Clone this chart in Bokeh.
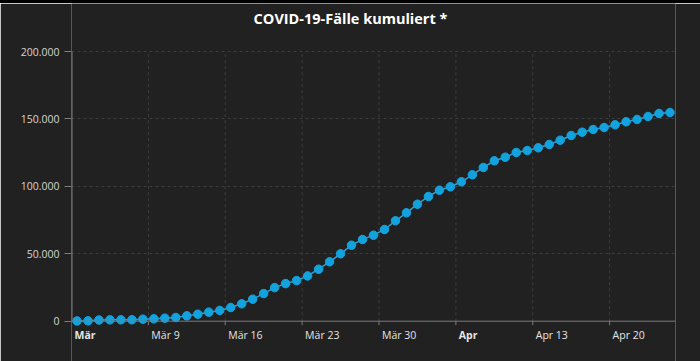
from datetime import datetime, timedelta
import pandas as pd
from bokeh.plotting import figure
from bokeh.models import Range1d, FixedTicker, Span, Grid, ColumnDataSource, Div
from bokeh.layouts import column
from bokeh.core.properties import value
from bokeh.embed import file_html
from bokeh.resources import INLINE

# ---- data ----
start_date = "2020-03-02"
cases = [200, 260, 900, 1000, 1050, 1100, 1500, 1750, 2250, 2750,
         3950, 5200, 6700, 8000, 10150, 12900, 16330, 20470, 24920, 27880,
         30110, 33570, 38560, 44050, 49990, 56360, 60590, 63800, 68000, 74450,
         80380, 86770, 92480, 97150, 99670, 103380, 108570, 113980, 118950, 121620,
         125110, 126590, 128590, 131040, 134220, 137710, 140160, 142160, 143650, 145650,
         147870, 149580, 151800, 154030, 154770]
dates = pd.date_range(start_date, periods=len(cases), freq="D")

tick_dates = ["2020-03-02", "2020-03-09", "2020-03-16", "2020-03-23",
              "2020-03-30", "2020-04-06", "2020-04-13", "2020-04-20"]
tick_labels = ["Mär", "Mär 9", "Mär 16", "Mär 23", "Mär 30", "Apr", "Apr 13", "Apr 20"]
tick_bold = [True, False, False, False, False, True, False, False]

y_ticks = [0, 50000, 100000, 150000, 200000]
y_labels = ["0", "50.000", "100.000", "150.000", "200.000"]

title_text = "COVID-19-Fälle kumuliert *"

# ---- styling / layout ----
BG = "#212121"
FONT = "Open Sans"
AXIS = "#7c7c7c"
GRID = "#3d3d3d"
DOT = "#12a3de"
LINE = "#3b9cc8"

W, H = 700, 358              # figure sits below a 3px black strip
left, right = 71, 25
frame_w = W - left - right
zero_px, top_px = 317.7, 48.0   # figure pixel rows of y=0 and y=200000
y_top_val = y_ticks[-1]
per_px = y_top_val / (zero_px - top_px)

x_start = datetime(2020, 3, 2)
x_end = datetime(2020, 4, 26)
x0_ms = pd.Timestamp(x_start).value // 10**6
x1_ms = pd.Timestamp(x_end).value // 10**6
ms_px = (x1_ms - x0_ms) / frame_w

y_start = -(H - zero_px) * per_px
y_end = y_top_val + top_px * per_px

src = ColumnDataSource(dict(x=[d.to_pydatetime() + timedelta(hours=12) for d in dates], y=cases))

p = figure(width=W, height=H, output_backend="svg", toolbar_location=None,
           x_axis_location=None,
           x_range=Range1d(x0_ms, x1_ms), y_range=Range1d(y_start, y_end),
           min_border_left=left, min_border_right=right,
           min_border_top=0, min_border_bottom=0)
p.background_fill_color = BG
p.border_fill_color = BG
p.outline_line_color = None
p.xgrid.grid_line_color = None
p.ygrid.grid_line_color = None
p.grid.visible = False

tick_ms = [pd.Timestamp(t).value // 10**6 for t in tick_dates]

# y axis (labels + ticks from bokeh, line drawn between 0 and 200000 only)
p.yaxis.ticker = FixedTicker(ticks=y_ticks)
p.yaxis.major_label_overrides = {t: l for t, l in zip(y_ticks, y_labels)}
p.yaxis.major_label_text_color = "#d6d6d6"
p.yaxis.major_label_text_font = FONT
p.yaxis.major_label_text_font_size = "10.5px"
p.yaxis.major_label_standoff = 5
p.yaxis.axis_line_color = None
p.yaxis.major_tick_line_color = AXIS
p.yaxis.major_tick_out = 7
p.yaxis.major_tick_in = 0
p.yaxis.minor_tick_line_color = None
p.segment(x0=[x0_ms + 0.5 * ms_px], y0=[y_ticks[0]], x1=[x0_ms + 0.5 * ms_px], y1=[y_ticks[-1]],
          line_color=AXIS, line_width=1)

# grids: horizontal across the frame, vertical only between 0 and 200000
p.add_layout(Grid(dimension=1, ticker=FixedTicker(ticks=y_ticks[1:]),
                  grid_line_color=GRID, grid_line_dash="3 3"))
vg = tick_ms[1:]
p.segment(x0=vg, y0=[y_ticks[0]] * len(vg), x1=vg, y1=[y_ticks[-1]] * len(vg),
          line_color=GRID, line_dash="3 3", line_width=1)

# x axis line and ticks
p.add_layout(Span(location=0, dimension="width", line_color=AXIS, line_width=1))
p.segment(x0=vg, y0=[0] * len(vg), x1=vg,
          y1=[-4 * per_px] * len(vg), line_color=AXIS, line_width=1)

# data
p.line("x", "y", source=src, line_color=LINE, line_width=1.5)
p.scatter("x", "y", source=src, size=8.5, fill_color=DOT, line_color=DOT)

# x tick labels (left aligned at the tick, month names bold)
lab_src = ColumnDataSource(dict(
    x=tick_ms, y=[-14 * per_px] * len(tick_ms), text=tick_labels,
    style=["bold" if b else "normal" for b in tick_bold]))
p.text("x", "y", text="text", source=lab_src, x_offset=3,
       text_align="left", text_baseline="alphabetic",
       text_color="#e6e6e6", text_font=value(FONT), text_font_size="10.5px",
       text_font_style="style")

# title
title_x = x0_ms + (350 - left) / frame_w * (x1_ms - x0_ms)
title_y = y_top_val + (top_px - 15) * per_px
p.text(x=[title_x], y=[title_y], text=[title_text], text_align="center",
       text_baseline="alphabetic", text_color="#ffffff", text_font=value(FONT),
       text_font_style="bold", text_font_size="14.5px")

strip = Div(width=W, height=3, margin=0, styles={"background-color": "#000000"})
layout = column(strip, p, spacing=0, margin=0)

open("out.html", "w").write(file_html(layout, INLINE))
